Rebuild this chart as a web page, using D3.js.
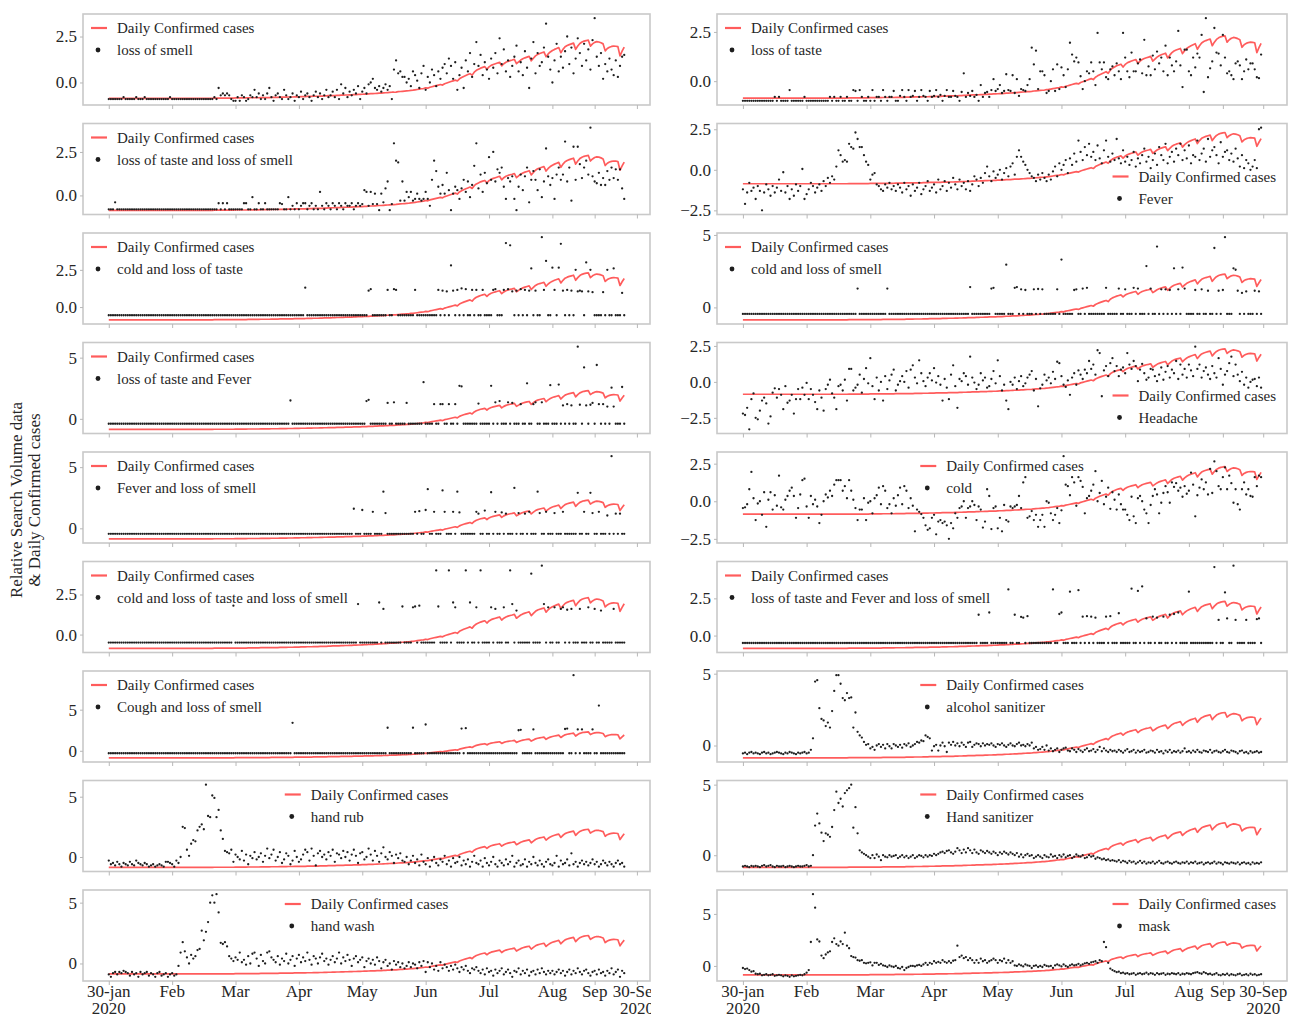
<!DOCTYPE html>
<html>
<head>
<meta charset="utf-8">
<script src="https://cdn.jsdelivr.net/npm/d3@7"></script>
<style>
  body { margin: 0; background: #fff; }
  svg { display: block; }
</style>
</head>
<body>
<svg id="chart" width="1296" height="1019"></svg>
<script>
// Daily series, 30 Jan 2020 .. 30 Sep 2020 (one value per day, standardised)
const leftTickDays = [0, 30, 60, 90, 120, 150, 180, 210, 230, 250];
const rightTickDays = [0, 30, 60, 90, 120, 150, 180, 210, 226, 245];
const xTickLabels = [["30-jan", "2020"], ["Feb"], ["Mar"], ["Apr"], ["May"], ["Jun"], ["Jul"], ["Aug"], ["Sep"], ["30-Sep", "2020"]];

const confirmedCases = [
  -0.86,-0.86,-0.86,-0.86,-0.86,-0.86,-0.86,-0.86,-0.86,-0.86,-0.86,-0.86,-0.86,-0.86,-0.86,-0.86,-0.86,-0.86,-0.86,-0.86,-0.86,-0.86,-0.86,-0.86,-0.86,-0.86,-0.86,-0.86,-0.86,-0.86,-0.86,-0.86,-0.86,-0.86,-0.86,
  -0.86,-0.86,-0.86,-0.86,-0.86,-0.86,-0.86,-0.86,-0.86,-0.86,-0.86,-0.86,-0.86,-0.86,-0.86,-0.85,-0.85,-0.85,-0.85,-0.85,-0.85,-0.85,-0.85,-0.85,-0.85,-0.84,-0.84,-0.84,-0.84,-0.84,-0.84,-0.83,-0.83,-0.83,-0.83,
  -0.83,-0.83,-0.82,-0.82,-0.82,-0.82,-0.82,-0.81,-0.81,-0.81,-0.81,-0.80,-0.80,-0.80,-0.80,-0.79,-0.79,-0.79,-0.78,-0.78,-0.78,-0.77,-0.77,-0.77,-0.76,-0.76,-0.76,-0.75,-0.75,-0.75,-0.74,-0.74,-0.73,-0.73,-0.72,
  -0.72,-0.71,-0.71,-0.70,-0.70,-0.69,-0.69,-0.68,-0.68,-0.67,-0.67,-0.66,-0.66,-0.65,-0.65,-0.64,-0.63,-0.63,-0.62,-0.61,-0.61,-0.60,-0.59,-0.58,-0.58,-0.57,-0.56,-0.55,-0.54,-0.53,-0.53,-0.52,-0.50,-0.49,-0.48,
  -0.47,-0.46,-0.45,-0.43,-0.42,-0.40,-0.38,-0.36,-0.34,-0.33,-0.29,-0.31,-0.26,-0.23,-0.20,-0.17,-0.14,-0.11,-0.14,-0.07,-0.03,0.01,0.05,0.09,0.13,0.08,0.20,0.27,0.33,0.38,0.43,0.48,0.40,0.56,0.66,
  0.72,0.78,0.82,0.86,0.72,0.85,0.93,0.98,1.02,1.06,1.10,0.90,1.02,1.10,1.15,1.19,1.22,1.26,1.02,1.12,1.22,1.29,1.34,1.38,1.42,1.18,1.32,1.45,1.53,1.58,1.62,1.66,1.40,1.55,1.66,
  1.74,1.80,1.85,1.90,1.62,1.80,1.94,2.01,2.06,2.10,2.14,1.80,1.98,2.12,2.20,2.25,2.28,2.30,1.98,2.10,2.18,2.22,2.20,2.16,2.10,1.72,1.85,1.92,1.96,1.98,1.97,1.95,1.45,1.70,1.92
];

const lossOfSmell = [
  -0.9,-0.9,-0.9,-0.9,-0.9,-0.9,-0.9,-0.8,-0.9,-0.9,-0.9,-0.9,-0.9,-0.8,-0.9,-0.9,-0.9,-0.8,-0.9,-0.9,-0.9,-0.9,-0.9,-0.9,-0.9,-0.9,-0.9,-0.9,-0.9,-0.8,-0.9,-0.9,-0.9,-0.9,-0.9,
  -0.9,-0.9,-0.9,-0.9,-0.9,-0.9,-0.9,-0.9,-0.9,-0.9,-0.9,-0.9,-0.9,-0.9,-0.9,-0.8,-0.9,-0.3,-0.7,-0.6,-0.7,-0.6,-0.7,-0.9,-1.0,-1.0,-0.8,-1.0,-0.7,-0.8,-1.0,-0.9,-0.7,-0.8,-0.4,
  -0.8,-0.6,-0.9,-0.7,-0.9,-0.6,-0.3,-0.8,-1.0,-0.7,-0.6,-0.8,-0.9,-0.4,-0.7,-0.9,-0.8,-0.6,-1.0,-0.7,-0.8,-0.5,-0.9,-0.7,-0.6,-0.8,-1.0,-0.7,-0.5,-0.8,-0.6,-0.9,-0.7,-0.4,-0.8,
  -0.7,-0.5,-0.8,-0.4,-0.9,-0.1,-0.6,-0.3,-0.8,-0.5,-0.7,-0.4,-0.6,-0.2,-0.9,-0.5,-0.3,-0.6,-0.1,0.0,0.2,-0.3,-0.4,-0.2,-0.5,-0.3,-0.1,-0.4,-0.2,-0.9,0.7,1.2,0.5,0.6,0.3,
  0.3,0.0,0.2,-0.2,0.6,0.4,0.1,-0.3,0.5,0.9,-0.4,0.3,0.0,0.7,0.4,-0.2,0.6,0.2,0.8,1.0,0.5,1.3,0.9,0.2,1.1,-0.4,0.4,0.8,-0.3,1.2,0.6,1.6,0.3,1.0,2.2,
  0.9,1.5,0.4,1.1,0.7,0.2,1.3,0.8,1.6,0.5,2.4,1.0,1.8,0.6,1.2,0.3,0.9,1.4,2.0,0.6,1.1,0.4,1.7,0.8,-0.3,1.3,2.2,0.5,1.6,0.9,1.1,1.9,3.2,1.4,0.7,
  0.0,1.2,2.1,0.6,1.4,0.8,1.7,2.5,1.0,1.9,0.5,1.3,2.4,1.6,0.9,2.1,1.2,1.8,0.7,2.3,3.5,1.4,0.9,1.6,0.2,1.0,0.6,1.3,0.7,0.4,1.2,0.3,0.9,1.4,1.5
];

const lossOfTasteAndSmell = [
  -0.8,-0.8,-0.8,-0.4,-0.8,-0.8,-0.8,-0.8,-0.8,-0.8,-0.8,-0.8,-0.8,-0.8,-0.8,-0.8,-0.8,-0.8,-0.8,-0.8,-0.8,-0.8,-0.8,-0.8,-0.8,-0.8,-0.8,-0.8,-0.8,-0.8,-0.8,-0.8,-0.8,-0.8,-0.8,
  -0.8,-0.8,-0.8,-0.8,-0.8,-0.8,-0.8,-0.8,-0.8,-0.8,-0.8,-0.8,-0.8,-0.8,-0.8,-0.8,-0.8,-0.45,-0.8,-0.45,-0.8,-0.45,-0.8,-0.8,-0.8,-0.8,-0.8,-0.8,-0.8,-0.45,-0.45,-0.8,-0.8,-0.1,-0.8,
  -0.8,-0.45,-0.8,-0.8,-0.45,-0.8,-0.8,-0.8,-0.8,-0.8,-0.8,-0.45,-0.5,-0.8,-0.8,-0.1,-0.8,-0.6,-0.8,-0.45,-0.8,-0.6,-0.45,-0.45,-0.8,-0.6,-0.45,-0.8,-0.6,-0.8,0.2,-0.6,-0.8,-0.45,-0.6,
  -0.8,-0.45,-0.6,-0.8,-0.45,-0.6,-0.8,-0.45,-0.6,-0.6,-0.45,-0.8,-0.6,-0.45,-0.6,-0.5,0.3,0.2,-0.6,0.2,-0.5,0.1,-0.5,-0.85,0.1,-0.4,0.4,0.8,-0.85,-0.5,3.0,2.0,1.9,-0.3,0.8,
  -0.3,0.2,-0.1,0.2,-0.3,-0.2,0.1,-0.2,-0.3,-0.2,0.2,-0.2,-0.6,0.9,2.0,1.4,0.5,0.1,0.6,0.1,1.3,0.3,-0.85,0.1,0.5,0.3,-0.2,0.4,0.9,0.2,0.8,-0.1,0.6,1.7,3.0,
  0.4,1.2,0.2,1.3,0.7,2.2,0.9,2.5,0.8,1.5,1.3,1.6,0.5,-0.2,1.0,0.8,1.1,-0.2,-0.85,0.5,1.2,0.3,1.1,1.6,-0.4,0.9,1.4,0.9,0.3,1.5,-0.1,0.8,2.7,1.1,0.6,
  1.0,-0.2,1.2,1.6,0.9,1.2,3.1,0.8,1.6,-0.3,2.8,0.9,2.8,1.8,1.0,1.6,2.0,1.2,3.9,1.1,0.8,0.7,1.3,0.6,1.0,0.6,1.4,0.9,1.6,1.0,1.5,0.9,1.5,0.4,-0.2
];

const coldAndLossOfTaste = [
  -0.55,-0.55,-0.55,-0.55,-0.55,-0.55,-0.55,-0.55,-0.55,-0.55,-0.55,-0.55,-0.55,-0.55,-0.55,-0.55,-0.55,-0.55,-0.55,-0.55,-0.55,-0.55,-0.55,-0.55,-0.55,-0.55,-0.55,-0.55,-0.55,-0.55,-0.55,-0.55,-0.55,-0.55,-0.55,
  -0.55,-0.55,-0.55,-0.55,-0.55,-0.55,-0.55,-0.55,-0.55,-0.55,-0.55,-0.55,-0.55,-0.55,-0.55,-0.55,-0.55,-0.55,-0.55,-0.55,-0.55,-0.55,-0.55,-0.55,-0.55,-0.55,-0.55,-0.55,-0.55,-0.55,-0.55,-0.55,-0.55,-0.55,-0.55,
  -0.55,-0.55,-0.55,-0.55,-0.55,-0.55,-0.55,-0.55,-0.55,-0.55,-0.55,-0.55,-0.55,-0.55,-0.55,-0.55,-0.55,-0.55,-0.55,-0.55,-0.55,-0.55,-0.55,1.3,-0.55,-0.55,-0.55,-0.55,-0.55,-0.55,-0.55,-0.55,-0.55,-0.55,-0.55,
  -0.55,-0.55,-0.55,-0.55,-0.55,-0.55,-0.55,-0.55,-0.55,-0.55,-0.55,-0.55,-0.55,-0.55,-0.55,-0.55,-0.55,-0.55,1.1,1.2,-0.55,-0.55,-0.55,-0.55,-0.55,-0.55,-0.55,1.15,-0.55,-0.55,1.2,1.15,-0.55,-0.55,-0.55,
  -0.55,-0.55,-0.55,-0.55,-0.55,1.15,-0.55,-0.55,-0.55,-0.55,-0.55,-0.55,-0.55,-0.55,-0.55,-0.55,1.15,-0.55,1.1,-0.55,1.05,-0.55,2.8,1.1,-0.55,1.15,-0.55,1.25,-0.55,1.2,-0.55,-0.55,1.15,-0.55,1.15,
  -0.55,-0.55,1.15,-0.55,-0.55,-0.55,-0.55,1.15,1.2,-0.55,-0.55,-0.55,1.15,4.3,1.2,4.15,1.05,-0.55,1.1,-0.55,1.2,-0.55,1.15,-0.55,1.1,2.6,-0.55,1.1,-0.55,-0.55,4.7,1.15,3.1,-0.55,-0.55,
  2.65,1.15,-0.55,2.65,4.25,1.1,-0.55,1.15,-0.55,1.1,-0.55,2.5,1.05,1.1,1.05,-0.55,3.0,1.05,2.5,1.0,-0.55,-0.55,-0.55,-0.55,1.0,-0.55,2.5,-0.55,-0.55,2.6,-0.55,-0.55,-0.55,0.95,-0.55
];

const lossOfTasteAndFever = [
  -0.4,-0.4,-0.4,-0.4,-0.4,-0.4,-0.4,-0.4,-0.4,-0.4,-0.4,-0.4,-0.4,-0.4,-0.4,-0.4,-0.4,-0.4,-0.4,-0.4,-0.4,-0.4,-0.4,-0.4,-0.4,-0.4,-0.4,-0.4,-0.4,-0.4,-0.4,-0.4,-0.4,-0.4,-0.4,
  -0.4,-0.4,-0.4,-0.4,-0.4,-0.4,-0.4,-0.4,-0.4,-0.4,-0.4,-0.4,-0.4,-0.4,-0.4,-0.4,-0.4,-0.4,-0.4,-0.4,-0.4,-0.4,-0.4,-0.4,-0.4,-0.4,-0.4,-0.4,-0.4,-0.4,-0.4,-0.4,-0.4,-0.4,-0.4,
  -0.4,-0.4,-0.4,-0.4,-0.4,-0.4,-0.4,-0.4,-0.4,-0.4,-0.4,-0.4,-0.4,-0.4,-0.4,-0.4,1.5,-0.4,-0.4,-0.4,-0.4,-0.4,-0.4,-0.4,-0.4,-0.4,-0.4,-0.4,-0.4,-0.4,-0.4,-0.4,-0.4,-0.4,-0.4,
  -0.4,-0.4,-0.4,-0.4,-0.4,-0.4,-0.4,-0.4,-0.4,-0.4,-0.4,-0.4,-0.4,-0.4,-0.4,-0.4,-0.4,1.45,1.55,-0.4,-0.4,-0.4,-0.4,-0.4,-0.4,-0.4,-0.4,1.3,-0.4,-0.4,1.35,-0.4,-0.4,-0.4,-0.4,
  -0.4,1.3,-0.4,-0.4,-0.4,-0.4,-0.4,-0.4,-0.4,3.0,-0.4,-0.4,-0.4,-0.4,1.2,-0.4,-0.4,1.2,1.2,-0.4,-0.4,1.2,-0.4,-0.4,1.2,-0.4,2.7,2.65,-0.4,-0.4,-0.4,-0.4,-0.4,-0.4,-0.4,
  1.25,-0.4,-0.4,-0.4,-0.4,-0.4,2.7,-0.4,1.35,-0.4,1.45,-0.4,-0.4,-0.4,1.35,-0.4,1.3,-0.4,-0.4,-0.4,1.2,-0.4,-0.4,2.9,-0.4,-0.4,1.2,1.35,-0.4,-0.4,1.35,-0.4,-0.4,-0.4,2.75,
  -0.4,-0.4,-0.4,2.8,-0.4,1.1,-0.4,1.2,-0.4,1.1,-0.4,-0.4,5.9,1.15,-0.4,4.2,1.1,-0.4,1.15,1.3,-0.4,4.4,1.2,-0.4,1.2,-0.4,1.0,-0.4,2.55,1.0,-0.4,-0.4,-0.4,2.6,-0.4
];

const feverAndLossOfSmell = [
  -0.45,-0.45,-0.45,-0.45,-0.45,-0.45,-0.45,-0.45,-0.45,-0.45,-0.45,-0.45,-0.45,-0.45,-0.45,-0.45,-0.45,-0.45,-0.45,-0.45,-0.45,-0.45,-0.45,-0.45,-0.45,-0.45,-0.45,-0.45,-0.45,-0.45,-0.45,-0.45,-0.45,-0.45,-0.45,
  -0.45,-0.45,-0.45,-0.45,-0.45,-0.45,-0.45,-0.45,-0.45,-0.45,-0.45,-0.45,-0.45,-0.45,-0.45,-0.45,-0.45,-0.45,-0.45,-0.45,-0.45,-0.45,-0.45,-0.45,-0.45,-0.45,-0.45,-0.45,-0.45,-0.45,-0.45,-0.45,-0.45,-0.45,-0.45,
  -0.45,-0.45,-0.45,-0.45,-0.45,-0.45,-0.45,-0.45,-0.45,-0.45,-0.45,-0.45,-0.45,-0.45,-0.45,-0.45,-0.45,-0.45,-0.45,-0.45,-0.45,-0.45,-0.45,-0.45,-0.45,-0.45,-0.45,-0.45,-0.45,-0.45,-0.45,-0.45,-0.45,-0.45,-0.45,
  -0.45,-0.45,-0.45,-0.45,-0.45,-0.45,-0.45,-0.45,-0.45,-0.45,-0.45,1.6,-0.45,-0.45,-0.45,1.5,-0.45,-0.45,-0.45,-0.45,1.35,-0.45,-0.45,-0.45,-0.45,3.0,1.25,-0.45,-0.45,-0.45,-0.45,-0.45,-0.45,-0.45,-0.45,
  -0.45,-0.45,-0.45,-0.45,-0.45,1.35,-0.45,1.4,-0.45,-0.45,1.5,3.2,-0.45,-0.45,1.35,-0.45,-0.45,-0.45,3.1,1.35,-0.45,-0.45,-0.45,1.35,-0.45,3.0,1.3,-0.45,-0.45,-0.45,-0.45,-0.45,-0.45,-0.45,1.35,
  1.2,-0.45,-0.45,1.45,-0.45,-0.45,2.95,-0.45,1.35,-0.45,-0.45,1.3,-0.45,1.2,-0.45,-0.45,-0.45,3.3,-0.45,1.25,-0.45,-0.45,1.2,-0.45,1.35,-0.45,-0.45,-0.45,3.0,1.25,-0.45,-0.45,1.35,-0.45,-0.45,
  -0.45,1.25,-0.45,-0.45,-0.45,1.35,-0.45,-0.45,-0.45,-0.45,-0.45,-0.45,2.9,-0.45,-0.45,1.35,-0.45,-0.45,2.9,1.25,-0.45,-0.45,1.35,-0.45,-0.45,-0.45,1.05,-0.45,5.9,-0.45,1.2,-0.45,1.2,-0.45,-0.45
];

const coldTasteSmell = [
  -0.5,-0.5,-0.5,-0.5,-0.5,-0.5,-0.5,-0.5,-0.5,-0.5,-0.5,-0.5,-0.5,-0.5,-0.5,-0.5,-0.5,-0.5,-0.5,-0.5,-0.5,-0.5,-0.5,-0.5,-0.5,-0.5,-0.5,-0.5,-0.5,-0.5,-0.5,-0.5,-0.5,-0.5,-0.5,
  -0.5,-0.5,-0.5,-0.5,-0.5,-0.5,-0.5,-0.5,-0.5,-0.5,-0.5,-0.5,-0.5,-0.5,-0.5,-0.5,-0.5,-0.5,-0.5,-0.5,-0.5,-0.5,-0.5,-0.5,1.8,-0.5,-0.5,-0.5,-0.5,-0.5,-0.5,-0.5,-0.5,-0.5,-0.5,
  -0.5,-0.5,-0.5,-0.5,-0.5,-0.5,-0.5,-0.5,-0.5,-0.5,-0.5,-0.5,-0.5,-0.5,-0.5,-0.5,-0.5,-0.5,-0.5,-0.5,-0.5,-0.5,-0.5,-0.5,-0.5,-0.5,-0.5,-0.5,-0.5,-0.5,-0.5,-0.5,-0.5,-0.5,-0.5,
  -0.5,-0.5,-0.5,-0.5,-0.5,-0.5,-0.5,-0.5,-0.5,-0.5,-0.5,-0.5,-0.5,1.9,-0.5,-0.5,-0.5,-0.5,-0.5,-0.5,-0.5,-0.5,-0.5,2.0,-0.5,1.6,-0.5,-0.5,-0.5,-0.5,-0.5,-0.5,-0.5,-0.5,1.75,
  -0.5,-0.5,-0.5,-0.5,1.7,1.75,-0.5,1.8,-0.5,-0.5,-0.5,-0.5,-0.5,-0.5,-0.5,4.0,1.75,-0.5,-0.5,-0.5,-0.5,4.0,-0.5,2.0,1.7,-0.5,-0.5,-0.5,-0.5,4.0,-0.5,2.0,-0.5,-0.5,1.7,
  -0.5,4.0,-0.5,-0.5,-0.5,-0.5,1.7,-0.5,1.6,-0.5,-0.5,-0.5,1.7,-0.5,-0.5,4.0,1.9,-0.5,1.5,-0.5,-0.5,-0.5,-0.5,-0.5,-0.5,3.8,-0.5,-0.5,-0.5,-0.5,4.3,1.9,-0.5,1.7,-0.5,
  -0.5,1.7,-0.5,-0.5,1.6,1.7,-0.5,1.55,-0.5,1.6,-0.5,-0.5,-0.5,1.6,-0.5,-0.5,-0.5,1.7,-0.5,-0.5,1.6,-0.5,-0.5,1.5,-0.5,-0.5,-0.5,-0.5,-0.5,1.6,-0.5,-0.5,-0.5,-0.5,-0.5
];

const coughAndLossOfSmell = [
  -0.3,-0.3,-0.3,-0.3,-0.3,-0.3,-0.3,-0.3,-0.3,-0.3,-0.3,-0.3,-0.3,-0.3,-0.3,-0.3,-0.3,-0.3,-0.3,-0.3,-0.3,-0.3,-0.3,-0.3,-0.3,-0.3,-0.3,-0.3,-0.3,-0.3,-0.3,-0.3,-0.3,-0.3,-0.3,
  -0.3,-0.3,-0.3,-0.3,-0.3,-0.3,-0.3,-0.3,-0.3,-0.3,-0.3,-0.3,-0.3,-0.3,-0.3,-0.3,-0.3,-0.3,-0.3,-0.3,-0.3,-0.3,-0.3,-0.3,-0.3,-0.3,-0.3,-0.3,-0.3,-0.3,-0.3,-0.3,-0.3,-0.3,-0.3,
  -0.3,-0.3,-0.3,-0.3,-0.3,-0.3,-0.3,-0.3,-0.3,-0.3,-0.3,-0.3,-0.3,-0.3,-0.3,-0.3,-0.3,3.4,-0.3,-0.3,-0.3,-0.3,-0.3,-0.3,-0.3,-0.3,-0.3,-0.3,-0.3,-0.3,-0.3,-0.3,-0.3,-0.3,-0.3,
  -0.3,-0.3,-0.3,-0.3,-0.3,-0.3,-0.3,-0.3,-0.3,-0.3,-0.3,-0.3,-0.3,-0.3,-0.3,-0.3,-0.3,-0.3,-0.3,-0.3,-0.3,-0.3,-0.3,-0.3,-0.3,-0.3,-0.3,2.8,-0.3,-0.3,-0.3,-0.3,-0.3,-0.3,-0.3,
  -0.3,-0.3,-0.3,-0.3,2.8,-0.3,-0.3,-0.3,-0.3,-0.3,3.2,-0.3,-0.3,-0.3,-0.3,-0.3,-0.3,-0.3,-0.3,-0.3,-0.3,-0.3,-0.3,-0.3,-0.3,-0.3,-0.3,2.7,-0.3,2.75,-0.3,-0.3,-0.3,-0.3,-0.3,
  -0.3,-0.3,-0.3,-0.3,-0.3,-0.3,-0.3,-0.3,-0.3,-0.3,-0.3,-0.3,-0.3,-0.3,-0.3,-0.3,-0.3,-0.3,-0.3,2.5,2.55,-0.3,-0.3,-0.3,-0.3,-0.3,2.6,-0.3,-0.3,-0.3,-0.3,-0.3,-0.3,-0.3,-0.3,
  -0.3,-0.3,-0.3,-0.3,-0.3,-0.3,2.65,2.7,-0.3,-0.3,9.2,-0.3,2.6,-0.3,2.6,-0.3,-0.3,-0.3,-0.3,2.6,-0.3,-0.3,5.5,-0.3,-0.3,-0.3,-0.3,-0.3,-0.3,-0.3,-0.3,-0.3,-0.3,-0.3,-0.3
];

const handRub = [
  -0.3,-0.6,-0.5,-0.7,-0.4,-0.6,-0.8,-0.5,-0.6,-0.7,-0.4,-0.6,-0.7,-0.3,-0.5,-0.6,-0.7,-0.5,-0.6,-0.8,-0.7,-0.6,-0.8,-0.7,-0.6,-0.7,-0.8,-0.4,-0.4,-0.5,-0.6,-0.8,-0.3,-0.5,0.0,
  2.5,2.4,0.6,0.1,1.1,1.4,1.3,2.2,2.5,2.7,2.3,6.0,3.4,3.3,5.1,4.9,3.3,3.9,2.2,1.5,0.5,0.4,0.3,0.6,-0.4,0.2,0.0,-0.2,0.5,-0.3,0.2,-0.6,0.1,-0.1,0.4,
  -0.2,0.0,0.3,-0.4,0.1,0.7,-0.1,0.2,0.6,-0.3,0.0,0.4,-0.5,-0.2,0.3,0.1,-0.6,-0.3,0.5,0.0,-0.4,-0.2,0.2,0.6,0.4,-0.3,0.7,0.1,-0.7,0.3,0.5,0.0,0.2,-0.2,0.4,
  0.1,0.6,-0.4,0.3,0.2,-0.1,0.5,0.0,0.4,-0.3,0.2,0.6,0.1,-0.5,0.3,0.4,-0.2,0.0,0.7,0.2,-0.3,0.5,0.1,-0.4,0.3,0.8,0.0,-0.2,0.4,0.1,-0.5,0.2,-0.1,0.3,-0.3,
  -0.4,0.0,-0.6,-0.3,0.1,-0.5,-0.2,-0.7,0.2,-0.4,-0.6,-0.1,-0.8,-0.3,0.0,-0.5,-0.7,-0.2,-0.4,0.1,-0.6,-0.3,-0.8,-0.1,-0.5,-0.4,0.0,-0.7,-0.3,-0.6,-0.2,-0.8,-0.4,0.1,-0.5,
  -0.6,-0.3,-0.8,-0.1,-0.5,-0.7,-0.4,0.0,-0.6,-0.8,-0.3,-0.5,-0.7,-0.2,-0.6,-0.4,0.1,-0.8,-0.5,-0.3,-0.7,-0.6,-0.2,-0.8,-0.4,-0.6,0.0,-0.5,-0.7,-0.3,-0.6,-0.8,-0.4,-0.2,-0.6,
  -0.7,-0.5,0.1,-0.8,-0.3,-0.6,-0.5,-0.2,-0.7,0.3,-0.6,-0.4,-0.8,-0.5,-0.3,-0.6,-0.4,-0.7,-0.5,-0.2,-0.6,-0.4,-0.8,-0.6,-0.3,-0.5,-0.7,-0.4,-0.6,-0.8,-0.5,-0.3,-0.6,-0.5,-0.8
];

const handWash = [
  -0.9,-1.1,-0.8,-0.7,-0.9,-0.7,-0.8,-0.6,-0.7,-0.8,-1.0,-0.7,-0.9,-0.8,-1.1,-0.7,-0.9,-0.8,-0.7,-1.0,-0.8,-0.9,-1.1,-0.8,-0.7,-1.0,-0.9,-0.8,-1.1,-0.9,-0.8,-1.0,-0.9,-0.2,0.9,
  1.75,1.0,0.5,0.0,0.7,0.4,0.6,1.1,1.2,2.7,1.9,2.6,3.4,5.0,5.6,5.0,5.7,4.2,1.7,1.6,1.75,1.4,0.6,0.4,0.2,0.5,0.3,0.9,0.1,0.3,-0.1,0.6,0.0,0.8,0.9,
  0.4,-0.2,0.7,0.2,0.0,0.9,1.0,0.5,0.3,0.1,0.6,-0.1,0.4,0.2,0.8,0.0,0.3,0.6,-0.2,0.4,0.7,0.1,0.5,0.2,0.9,0.3,-0.1,0.6,0.4,0.0,0.5,0.8,0.2,0.4,-0.1,
  0.3,0.6,0.1,0.4,0.9,0.0,0.5,0.2,0.7,0.3,-0.2,0.4,0.6,0.1,0.3,0.5,-0.3,0.2,0.4,0.0,0.3,-0.1,0.5,0.2,-0.4,0.1,0.3,-0.2,0.0,-0.5,0.2,-0.1,0.1,-0.3,0.0,
  -0.4,-0.2,0.1,-0.3,0.0,-0.1,-0.4,0.1,-0.2,0.2,-0.7,0.1,-0.3,0.0,-0.5,-0.2,-0.6,0.1,-0.4,-0.1,-0.3,-0.6,-0.2,-0.5,-0.1,-0.4,-0.7,-0.3,-0.5,-0.2,-0.6,-0.8,-0.4,-0.5,-0.3,
  -0.6,-0.8,-0.5,-0.9,-0.4,-0.7,-0.6,-1.0,-0.5,-0.8,-0.6,-0.4,-0.9,-0.7,-0.5,-0.8,-1.1,-0.6,-0.7,-0.4,-0.9,-0.6,-0.8,-0.5,-1.0,-0.7,-0.6,-0.9,-0.5,-0.8,-0.4,-0.7,-0.9,-0.6,-0.8,
  -0.6,-0.9,-0.7,-0.5,-0.8,-0.6,-1.0,-0.7,-0.5,-0.9,-0.6,-0.8,-0.4,-0.7,-0.9,-0.6,-0.5,-0.8,-1.0,-0.7,-0.6,-0.9,-0.5,-0.8,-0.7,-1.0,-0.6,-0.8,-0.4,-0.9,-0.7,-0.5,-1.1,-0.6,-0.8
];

const lossOfTaste = [
  -1.0,-1.0,-1.0,-1.0,-1.0,-1.0,-1.0,-1.0,-1.0,-1.0,-1.0,-1.0,-1.0,-1.0,-1.0,-0.8,-1.0,-0.8,-1.0,-1.0,-1.0,-1.0,-0.45,-1.0,-1.0,-1.0,-1.0,-1.0,-1.0,-0.8,-1.0,-1.0,-1.0,-1.0,-1.0,
  -1.0,-1.0,-1.0,-1.0,-1.0,-1.0,-0.8,-1.0,-0.8,-1.0,-1.0,-0.8,-1.0,-1.0,-0.8,-1.0,-1.0,-0.45,-0.5,-1.0,-0.45,-0.8,-1.0,-1.0,-0.8,-1.0,-0.45,-1.0,-0.8,-0.8,-1.0,-0.45,-0.8,-1.0,-0.8,
  -0.8,-0.5,-1.0,-1.0,-0.75,-0.45,-0.8,-1.0,-0.45,-0.8,-0.75,-0.5,-1.0,-0.8,-0.45,-0.75,-0.8,-1.0,-0.5,-0.8,-0.75,-0.45,-0.8,-0.7,-1.0,-0.75,-0.45,-0.8,-0.8,-0.5,-0.75,-0.8,-1.0,-0.55,0.4,
  -0.8,-0.6,-0.75,-0.5,-0.8,-0.7,-1.0,-0.2,-0.8,-0.6,-0.55,-0.8,-0.45,0.1,-0.5,-0.4,-0.2,-0.6,-0.5,0.35,-0.45,-0.5,0.3,-0.6,0.1,-0.75,-0.4,-0.45,-0.5,-0.2,0.1,1.7,0.85,1.55,-0.4,
  0.5,0.5,0.3,-0.6,-0.5,0.0,0.6,-0.5,0.85,-0.4,0.7,0.3,-0.3,0.6,1.95,1.35,1.0,1.2,0.95,0.25,-0.4,0.0,0.5,0.4,0.95,0.5,-0.2,2.45,0.95,0.6,0.95,0.2,0.1,0.6,0.75,
  0.3,0.9,0.5,0.1,2.45,1.2,0.5,0.2,1.45,0.5,0.5,0.9,1.1,0.4,2.1,0.3,0.75,0.3,1.3,0.6,1.5,0.9,1.2,0.5,1.8,0.3,1.2,0.8,0.5,1.0,2.55,0.8,-0.3,1.6,1.6,
  0.5,0.3,1.2,0.7,1.4,1.2,2.35,-0.55,3.2,0.2,0.65,1.0,2.7,1.45,1.4,0.8,2.35,1.2,0.4,0.5,0.3,0.1,0.9,1.0,0.8,0.1,0.5,1.1,0.6,0.9,0.9,0.6,0.2,0.15,1.35
];

const fever = [
  -1.2,-2.1,-1.4,-0.8,-1.3,-1.1,-1.8,-1.0,-1.3,-2.5,-1.4,-0.9,-1.2,-1.6,-1.0,-1.4,-1.1,-0.6,-1.3,-0.15,-1.4,-1.0,-1.8,-1.2,-1.6,-0.9,-1.3,-1.0,0.05,-1.8,-1.5,-1.2,-0.8,-1.0,-1.4,
  -1.1,-0.9,-1.3,-0.7,-1.0,-0.5,-0.8,-0.4,-0.6,0.2,1.2,0.9,0.5,0.6,0.5,1.6,1.4,1.3,2.3,1.9,1.4,1.4,0.9,0.5,0.3,-0.6,-0.3,-0.2,-0.9,-1.0,-1.2,-1.3,-0.9,-1.1,-0.8,
  -1.2,-1.0,-1.3,-0.9,-1.1,-1.4,-0.8,-1.2,-1.0,-1.6,-0.9,-1.3,-1.1,-0.8,-1.5,-1.2,-1.0,-0.7,-1.3,-1.1,-0.9,-1.4,-0.6,-1.2,-1.0,-0.7,-1.3,-0.8,-1.1,-0.5,-0.9,-1.2,-0.6,-1.0,-0.8,
  -1.2,-0.7,-1.3,-0.9,-0.4,-0.6,-1.0,-0.5,-0.8,-0.2,0.2,-0.4,-0.7,-0.1,-0.5,-0.3,0.0,-0.6,-0.2,0.1,-0.4,0.2,0.4,-0.3,0.8,1.2,0.8,0.5,0.3,0.0,-0.2,-0.4,-0.5,-0.7,-0.3,
  -0.6,-0.2,-0.5,-0.7,-0.3,-0.6,-0.1,0.2,-0.4,0.4,0.0,0.3,0.6,-0.2,0.7,0.3,1.0,0.5,1.8,1.1,0.6,1.4,0.9,1.6,0.8,1.1,0.6,1.5,0.7,0.4,1.2,1.8,0.8,0.5,1.0,
  0.6,1.9,0.7,0.4,1.2,0.5,0.8,0.3,0.6,1.1,0.2,0.7,0.4,0.9,1.3,0.5,0.8,0.1,0.6,1.0,0.3,1.4,0.9,0.6,1.6,0.4,0.8,1.1,0.5,1.3,0.9,1.6,0.6,1.2,0.7,
  1.5,0.4,0.9,0.8,1.8,0.6,1.0,1.3,0.5,1.9,0.8,1.2,1.4,0.9,0.4,1.7,0.8,1.1,1.2,0.6,1.0,0.5,1.3,0.7,0.2,0.9,0.1,0.6,0.4,0.0,0.2,0.6,0.1,2.5,2.6
];

const coldAndLossOfSmell = [
  -0.45,-0.45,-0.45,-0.45,-0.45,-0.45,-0.45,-0.45,-0.45,-0.45,-0.45,-0.45,-0.45,-0.45,-0.45,-0.45,-0.45,-0.45,-0.45,-0.45,-0.45,-0.45,-0.45,-0.45,-0.45,-0.45,-0.45,-0.45,-0.45,-0.45,-0.45,-0.45,-0.45,-0.45,-0.45,
  -0.45,-0.45,-0.45,-0.45,-0.45,-0.45,-0.45,-0.45,-0.45,-0.45,-0.45,-0.45,-0.45,-0.45,-0.45,-0.45,-0.45,-0.45,-0.45,1.3,-0.45,-0.45,-0.45,-0.45,-0.45,-0.45,-0.45,-0.45,-0.45,-0.45,-0.45,-0.45,-0.45,1.3,-0.45,
  -0.45,-0.45,-0.45,-0.45,-0.45,-0.45,-0.45,-0.45,-0.45,-0.45,-0.45,-0.45,-0.45,-0.45,-0.45,-0.45,-0.45,-0.45,-0.45,-0.45,-0.45,-0.45,-0.45,-0.45,-0.45,-0.45,-0.45,-0.45,-0.45,-0.45,-0.45,-0.45,-0.45,-0.45,-0.45,
  -0.45,-0.45,1.4,-0.45,-0.45,-0.45,-0.45,-0.45,-0.45,-0.45,-0.45,-0.45,1.3,1.35,-0.45,-0.45,-0.45,-0.45,-0.45,2.95,-0.45,-0.45,-0.45,1.35,1.4,-0.45,1.25,-0.45,1.2,-0.45,-0.45,-0.45,1.25,-0.45,1.27,
  -0.45,1.25,-0.45,-0.45,-0.45,-0.45,-0.45,-0.45,1.25,-0.45,3.3,-0.45,-0.45,-0.45,-0.45,-0.45,1.2,1.25,-0.45,-0.45,1.3,-0.45,1.35,-0.45,-0.45,-0.45,-0.45,-0.45,-0.45,-0.45,-0.45,1.35,-0.45,-0.45,-0.45,
  -0.45,-0.45,1.3,-0.45,-0.45,1.25,-0.45,-0.45,-0.45,1.35,-0.45,1.3,-0.45,-0.45,-0.45,2.85,-0.45,1.3,-0.45,-0.45,4.2,-0.45,1.25,-0.45,1.25,-0.45,1.2,-0.45,2.7,-0.45,1.25,-0.45,2.75,1.3,-0.45,
  -0.45,-0.45,-0.45,1.2,-0.45,-0.45,1.25,-0.45,-0.45,1.15,-0.45,-0.45,4.1,-0.45,1.15,-0.45,1.2,4.85,-0.45,-0.45,-0.45,2.7,2.6,1.15,-0.45,1.0,-0.45,1.1,-0.45,-0.45,-0.45,1.15,-0.45,1.1,-0.45
];

const headache = [
  -2.2,-2.3,-1.8,-3.3,-1.2,-0.8,-2.5,-2.6,-2.0,-1.3,-1.1,-1.5,-2.9,-2.4,-0.75,-0.45,-1.1,-0.5,-0.9,-1.9,-0.3,-1.45,-1.3,-0.9,-2.2,-1.2,-0.5,-1.2,-0.4,-0.9,-0.07,-1.2,-0.5,-0.9,-1.4,
  -1.9,-0.6,-1.1,-2.0,-0.5,-0.2,0.15,-0.8,-1.1,-1.9,-0.3,-0.2,-0.6,0.15,-1.3,0.9,0.9,-0.6,-0.4,-0.2,0.5,-0.75,0.2,0.95,-0.1,1.65,-0.3,-1.2,0.3,-0.6,0.0,-1.3,0.4,-0.5,0.1,
  0.5,0.85,-0.6,-0.2,0.05,0.4,0.0,0.75,-0.4,0.85,1.15,0.3,-0.1,1.5,0.6,0.05,-0.3,0.3,0.6,0.1,0.95,-0.05,0.4,-0.2,-1.3,0.2,-0.4,-1.2,0.5,1.15,-0.3,-1.8,0.2,0.05,0.6,
  0.4,-0.2,1.75,0.3,-0.05,-0.5,-0.2,0.6,0.1,0.3,-0.4,-0.3,0.2,0.75,-0.1,1.5,0.4,-0.6,-0.2,-1.3,-1.9,0.0,-0.2,0.3,-0.5,0.05,0.4,-0.3,-0.1,0.3,0.5,0.75,-0.6,0.2,-1.7,
  -0.45,-0.2,0.5,0.1,0.3,-0.1,0.7,0.2,1.4,1.3,0.4,-0.2,-0.35,0.1,-0.9,0.3,0.6,-0.2,0.8,0.5,0.2,0.85,0.6,1.45,0.9,1.2,0.5,2.2,2.0,-1.0,0.8,1.1,0.4,1.3,1.65,
  0.75,1.1,0.4,0.85,1.0,0.6,2.0,1.2,0.9,1.45,1.1,0.05,0.85,1.25,0.6,0.15,0.3,0.9,0.85,0.4,0.05,0.5,1.0,0.15,0.7,1.1,0.3,0.85,0.6,1.45,0.2,1.2,0.5,0.9,0.3,
  1.2,0.8,0.4,2.45,0.9,1.2,0.3,0.75,1.0,0.5,0.2,1.1,0.6,0.3,1.65,0.9,-0.2,0.5,0.75,1.3,1.75,0.4,1.2,0.5,0.05,0.7,-0.2,0.3,-0.4,0.0,0.15,0.2,-0.3,0.3,-0.4
];

const cold = [
  -0.45,-0.4,-0.2,0.8,1.95,0.2,-1.25,-0.15,0.0,-0.9,0.6,-1.7,0.1,0.6,-0.55,0.4,-0.3,1.7,-0.4,-0.55,0.1,0.35,0.7,0.9,0.35,-1.1,-0.45,0.45,1.4,1.5,-0.35,-1.1,0.35,-0.2,0.1,
  -0.35,-1.45,-0.9,0.0,0.45,0.25,0.7,0.35,1.1,1.4,1.4,1.4,0.7,1.0,0.2,1.4,0.7,0.1,-0.45,-1.25,-0.55,-0.55,0.2,-1.25,-0.1,0.0,-0.8,0.2,0.4,0.9,-0.2,1.0,0.7,-0.45,-0.2,
  -0.8,0.2,-0.3,0.4,0.9,-0.2,1.0,0.7,-0.45,0.2,-0.3,-2.0,-0.55,-0.7,-0.85,-1.1,-1.6,-1.9,-1.8,-1.1,-0.9,-2.2,-1.35,-1.25,-1.45,-1.35,-1.6,-2.5,-1.45,-1.8,-0.8,-1.1,-0.45,-0.35,0.0,
  -1.1,-0.45,-0.35,0.0,-0.25,-1.25,-0.35,-0.55,-1.75,-1.35,0.8,0.35,-1.85,-0.45,-0.35,-1.8,-1.1,-2.0,-0.25,-1.25,-1.35,-0.35,-0.45,-0.35,-0.25,0.35,-0.45,1.25,1.6,-1.1,-1.0,-0.65,-1.25,-0.9,-1.7,
  -1.25,-0.9,-1.7,0.0,-0.1,-0.8,-1.25,-0.9,-0.45,-1.45,-0.6,3.0,1.1,1.0,0.4,1.6,1.25,-0.3,1.6,1.35,0.95,-0.8,0.2,0.35,0.7,1.1,2.0,0.0,0.55,1.35,-0.2,0.3,0.9,-0.5,0.6,
  0.1,-0.55,0.45,-0.2,-0.55,-0.55,-0.9,-1.25,0.3,-1.0,-1.45,0.2,0.35,0.0,-0.55,-0.8,-1.45,-0.25,0.35,0.8,0.45,-0.8,-0.1,0.55,1.0,0.6,-0.1,1.25,0.95,1.2,0.7,0.9,0.3,1.0,0.5,
  0.7,1.9,1.1,-1.0,0.4,0.9,1.45,0.8,1.25,0.45,2.15,0.55,2.65,2.0,1.0,0.8,1.6,2.25,0.8,1.7,1.2,-0.1,0.8,-0.2,-0.55,0.8,1.25,0.45,0.8,0.35,0.3,1.6,1.0,1.7,1.6
];

const tasteFeverSmell = [
  -0.5,-0.5,-0.5,-0.5,-0.5,-0.5,-0.5,-0.5,-0.5,-0.5,-0.5,-0.5,-0.5,-0.5,-0.5,-0.5,-0.5,-0.5,-0.5,-0.5,-0.5,-0.5,-0.5,-0.5,-0.5,-0.5,-0.5,-0.5,-0.5,-0.5,-0.5,-0.5,-0.5,-0.5,-0.5,
  -0.5,-0.5,-0.5,-0.5,-0.5,-0.5,-0.5,-0.5,-0.5,-0.5,-0.5,-0.5,-0.5,-0.5,-0.5,-0.5,-0.5,-0.5,-0.5,-0.5,-0.5,-0.5,-0.5,-0.5,-0.5,-0.5,-0.5,-0.5,-0.5,-0.5,-0.5,-0.5,-0.5,-0.5,-0.5,
  -0.5,-0.5,-0.5,-0.5,-0.5,-0.5,-0.5,-0.5,-0.5,-0.5,-0.5,-0.5,-0.5,-0.5,-0.5,-0.5,-0.5,-0.5,-0.5,-0.5,-0.5,-0.5,-0.5,-0.5,-0.5,-0.5,-0.5,-0.5,-0.5,-0.5,-0.5,-0.5,-0.5,-0.5,-0.5,
  -0.5,-0.5,-0.5,-0.5,-0.5,-0.5,1.4,-0.5,-0.5,-0.5,-0.5,1.55,-0.5,-0.5,-0.5,-0.5,-0.5,-0.5,-0.5,-0.5,3.1,-0.5,-0.5,1.4,-0.5,-0.5,1.25,1.2,-0.5,1.3,-0.5,-0.5,-0.5,-0.5,-0.5,
  -0.5,-0.5,-0.5,-0.5,-0.5,-0.5,3.1,-0.5,-0.5,1.45,1.55,-0.5,-0.5,-0.5,2.95,-0.5,-0.5,-0.5,3.05,-0.5,1.27,-0.5,1.3,-0.5,1.27,-0.5,1.2,-0.5,-0.5,-0.5,-0.5,1.27,-0.5,1.3,-0.5,
  -0.5,-0.5,1.5,-0.5,-0.5,-0.5,-0.5,-0.5,3.15,-0.5,-0.5,3.0,-0.5,3.3,-0.5,1.15,-0.5,-0.5,1.27,-0.5,1.2,-0.5,-0.5,1.27,-0.5,-0.5,1.4,-0.5,1.45,-0.5,1.55,-0.5,-0.5,-0.5,-0.5,
  2.95,-0.5,-0.5,-0.5,-0.5,-0.5,-0.5,-0.5,-0.5,-0.5,-0.5,-0.5,4.6,-0.5,1.05,-0.5,-0.5,2.9,1.15,-0.5,-0.5,4.7,1.05,-0.5,-0.5,-0.5,-0.5,1.05,-0.5,-0.5,-0.5,-0.5,1.1,1.15,-0.5
];

const alcoholSanitizer = [
  -0.55,-0.5,-0.6,-0.5,-0.45,-0.55,-0.5,-0.55,-0.6,-0.5,-0.45,-0.55,-0.5,-0.6,-0.55,-0.5,-0.45,-0.5,-0.55,-0.6,-0.5,-0.55,-0.45,-0.5,-0.55,-0.6,-0.5,-0.55,-0.5,-0.45,-0.55,-0.5,-0.3,0.5,4.45,
  4.55,2.6,1.85,1.75,1.35,1.6,1.25,2.4,3.8,4.9,4.9,4.3,3.3,3.15,3.65,3.3,3.35,1.25,2.3,0.95,0.7,0.55,0.25,0.05,0.1,-0.2,-0.1,-0.3,0.0,0.1,-0.1,0.05,-0.2,0.1,-0.05,
  -0.2,0.1,0.0,-0.1,0.05,-0.15,0.1,0.0,0.15,-0.1,0.0,0.1,0.25,0.2,0.35,0.3,0.7,0.6,0.5,-0.35,-0.05,0.05,-0.35,0.0,0.2,-0.05,-0.45,0.2,0.05,0.25,0.0,0.15,-0.05,0.2,0.05,
  -0.1,0.2,0.25,-0.1,0.05,0.15,0.1,-0.05,0.15,0.0,0.1,0.05,0.15,0.0,-0.1,0.1,0.05,0.15,0.0,-0.1,0.05,0.15,0.0,-0.05,0.1,0.2,0.0,0.05,-0.05,0.1,0.0,0.2,-0.2,-0.1,-0.3,
  -0.25,-0.1,-0.3,0.0,-0.35,-0.2,-0.4,-0.3,-0.2,-0.45,-0.3,-0.2,-0.15,-0.35,-0.4,-0.2,-0.3,-0.45,-0.25,-0.35,-0.45,-0.3,-0.2,-0.4,-0.35,-0.25,-0.45,-0.3,-0.1,-0.4,-0.2,-0.35,-0.45,-0.3,-0.4,
  -0.35,-0.45,-0.3,-0.4,-0.5,-0.35,-0.25,-0.45,-0.4,-0.3,-0.5,-0.35,-0.45,-0.4,-0.3,-0.5,-0.45,-0.35,-0.4,-0.5,-0.3,-0.45,-0.4,-0.55,-0.35,-0.45,-0.3,-0.5,-0.4,-0.45,-0.35,-0.5,-0.4,-0.2,-0.45,
  -0.4,-0.5,-0.35,-0.45,-0.3,-0.45,-0.5,-0.35,-0.4,-0.45,-0.3,-0.5,-0.4,-0.35,-0.45,-0.5,-0.4,-0.3,-0.45,-0.5,-0.35,-0.4,-0.45,-0.55,-0.4,-0.35,-0.5,-0.45,-0.55,-0.4,-0.5,-0.45,-0.4,-0.5,-0.45
];

const handSanitizer = [
  -0.8,-0.75,-0.8,-0.85,-0.75,-0.8,-0.75,-0.8,-0.85,-0.75,-0.7,-0.8,-0.75,-0.7,-0.8,-0.85,-0.75,-0.8,-0.8,-0.75,-0.85,-0.8,-0.75,-0.8,-0.85,-0.8,-0.75,-0.8,-0.8,-0.75,-0.7,-0.8,-0.75,0.0,2.1,
  2.95,2.25,1.6,1.0,1.55,1.45,1.3,2.0,3.2,4.5,3.7,4.0,3.45,4.4,4.6,4.75,5.0,1.95,3.4,1.55,0.35,0.2,0.1,0.0,-0.1,-0.2,0.0,-0.2,0.05,-0.1,-0.35,0.0,-0.1,-0.15,0.0,
  -0.1,-0.05,0.0,-0.2,-0.1,0.0,-0.15,-0.05,-0.2,-0.1,0.0,-0.2,-0.1,0.0,-0.05,-0.15,0.0,-0.1,0.0,-0.05,0.1,0.0,0.1,0.2,0.25,0.15,0.3,0.35,0.2,0.1,0.25,0.5,0.35,0.15,0.4,
  0.2,0.5,0.35,0.15,0.4,0.2,0.1,0.35,0.25,0.15,0.3,0.2,0.1,0.25,0.15,0.0,0.2,0.1,0.25,0.15,0.05,0.2,0.1,0.0,0.15,-0.1,0.05,-0.15,0.0,0.1,-0.05,0.0,-0.2,-0.1,0.0,
  -0.1,-0.2,0.0,-0.1,-0.15,0.05,-0.1,-0.05,-0.2,0.0,-0.1,0.05,-0.15,-0.05,0.0,-0.2,-0.1,0.05,-0.05,-0.1,0.0,-0.2,-0.15,0.0,-0.1,-0.05,-0.25,-0.15,-0.2,-0.3,-0.25,-0.35,-0.3,-0.4,-0.35,
  -0.4,-0.45,-0.35,-0.5,-0.4,-0.45,-0.55,-0.4,-0.5,-0.45,-0.6,-0.5,-0.4,-0.55,-0.45,-0.6,-0.5,-0.55,-0.45,-0.6,-0.5,-0.4,-0.55,-0.6,-0.5,-0.45,-0.55,-0.6,-0.5,-0.45,-0.55,-0.6,-0.5,-0.55,-0.45,
  -0.6,-0.5,-0.55,-0.45,-0.6,-0.55,-0.5,-0.65,-0.55,-0.5,-0.6,-0.55,-0.45,-0.6,-0.5,-0.55,-0.65,-0.5,-0.55,-0.6,-0.5,-0.55,-0.6,-0.5,-0.65,-0.55,-0.5,-0.6,-0.55,-0.65,-0.5,-0.6,-0.55,-0.6,-0.5
];

const mask = [
  -0.2,-0.3,-0.25,-0.4,-0.55,-0.5,-0.75,-0.8,-0.75,-0.9,-0.85,-0.8,-0.9,-0.85,-0.8,-0.95,-0.9,-0.85,-0.9,-1.0,-0.9,-0.95,-1.05,-0.9,-1.0,-0.95,-0.9,-0.85,-0.9,-0.8,-0.65,-0.4,2.3,6.9,5.6,
  2.55,2.35,1.0,0.75,1.1,1.3,1.4,2.3,2.65,2.1,1.95,2.35,2.1,3.2,1.95,1.7,0.95,0.85,0.8,0.55,0.5,0.55,0.3,0.25,0.3,0.35,0.05,0.3,0.3,0.1,0.2,0.05,0.0,-0.1,0.05,
  -0.05,-0.1,0.0,-0.2,-0.25,-0.1,-0.4,-0.2,-0.1,0.0,0.0,-0.05,0.05,0.1,0.0,0.15,0.3,0.1,0.3,0.2,0.45,0.3,0.4,0.3,0.55,0.4,0.3,0.45,0.3,0.5,0.55,1.95,0.85,1.0,0.75,
  0.85,0.55,0.75,0.55,0.3,0.55,0.3,0.7,0.45,0.55,0.3,0.45,0.55,0.7,0.55,0.3,0.55,0.45,0.7,0.3,0.55,0.3,0.45,0.05,0.0,0.15,0.05,-0.05,0.15,0.05,0.0,-0.2,0.0,0.05,-0.1,
  0.0,-0.1,0.1,0.0,-0.05,0.0,-0.2,0.05,0.15,0.05,-0.05,0.15,0.0,-0.1,0.05,0.15,0.05,0.1,0.2,0.05,0.15,0.25,0.3,0.2,0.35,0.4,0.45,0.3,0.55,0.45,2.3,1.8,0.3,-0.25,-0.4,
  -0.5,-0.6,-0.55,-0.7,-0.65,-0.75,-0.7,-0.8,-0.75,-0.7,-0.85,-0.75,-0.7,-0.8,-0.75,-0.65,-0.8,-0.7,-0.75,-0.85,-0.7,-0.8,-0.75,-0.7,-0.85,-0.75,-0.8,-0.7,-0.75,-0.8,-0.7,-0.85,-0.75,-0.8,-0.7,
  -0.75,-0.8,-0.7,-0.65,-0.6,-0.7,-0.75,-0.6,-0.7,-0.8,-0.75,-0.85,-0.8,-0.7,-0.85,-0.9,-0.8,-0.85,-0.75,-0.9,-0.8,-0.85,-0.9,-0.8,-0.75,-0.9,-0.85,-0.8,-0.9,-0.75,-0.85,-0.8,-0.9,-0.85,-0.8
];

// Panel contents, column by column, top to bottom
const leftTerms = ["loss of smell", "loss of taste and loss of smell", "cold and loss of taste", "loss of taste and Fever",
  "Fever and loss of smell", "cold and loss of taste and loss of smell", "Cough and loss of smell", "hand rub", "hand wash"];
const leftSeries = [lossOfSmell, lossOfTasteAndSmell, coldAndLossOfTaste, lossOfTasteAndFever,
  feverAndLossOfSmell, coldTasteSmell, coughAndLossOfSmell, handRub, handWash];
const leftYTicks = [[0, 2.5], [0, 2.5], [0, 2.5], [0, 5], [0, 5], [0, 2.5], [0, 5], [0, 5], [0, 5]];

const rightTerms = ["loss of taste", "Fever", "cold and loss of smell", "Headache", "cold",
  "loss of taste and Fever and loss of smell", "alcohol sanitizer", "Hand sanitizer", "mask"];
const rightSeries = [lossOfTaste, fever, coldAndLossOfSmell, headache, cold,
  tasteFeverSmell, alcoholSanitizer, handSanitizer, mask];
const rightYTicks = [[0, 2.5], [-2.5, 0, 2.5], [0, 5], [-2.5, 0, 2.5], [-2.5, 0, 2.5], [0, 2.5], [0, 5], [0, 5], [0, 5]];

// ---- layout ----
const leftLegendPlace = ["ul", "ul", "ul", "ul", "ul", "ul", "ul", "uc", "uc"];
const rightLegendPlace = ["ul", "lr", "ul", "lr", "uc", "ul", "uc", "uc", "ur"];
const FONT = "'Liberation Serif','Times New Roman',serif";
const TEXT = "#262626";
const RED = "#ff4a4a";
const panelTop = i => 14 + i * 109.5;
const panelH = 91;

const svg = d3.select("#chart");
svg.append("rect").attr("width", 1296).attr("height", 1019).attr("fill", "#fff");
svg.append("defs").append("clipPath").attr("id", "leftClip")
  .append("rect").attr("x", 0).attr("y", 0).attr("width", 651).attr("height", 1019);

const columns = [
  { left: 83, right: 650, terms: leftTerms, series: leftSeries, yTicks: leftYTicks, legend: leftLegendPlace, tickDays: leftTickDays, clip: "url(#leftClip)" },
  { left: 717, right: 1287, terms: rightTerms, series: rightSeries, yTicks: rightYTicks, legend: rightLegendPlace, tickDays: rightTickDays, clip: null }
];

const nDays = confirmedCases.length;

columns.forEach(col => {
  const x = d3.scaleLinear()
    .domain([-0.05 * (nDays - 1), 1.05 * (nDays - 1)])
    .range([col.left, col.right]);

  col.terms.forEach((term, r) => {
    const top = panelTop(r), bottom = top + panelH;
    const values = col.series[r];
    const [lo, hi] = d3.extent(values.concat(confirmedCases));
    const pad = (hi - lo) * 0.05;
    const y = d3.scaleLinear().domain([lo - pad, hi + pad]).range([bottom, top]);

    const g = svg.append("g");

    // frame
    g.append("rect")
      .attr("x", col.left).attr("y", top)
      .attr("width", col.right - col.left).attr("height", panelH)
      .attr("fill", "#fff").attr("stroke", "#c9c9c9").attr("stroke-width", 1.6);

    // x tick marks
    const xAxis = d3.axisBottom(x).tickValues(col.tickDays.filter(d => x(d) < col.right)).tickSize(4).tickFormat(() => "");
    g.append("g").attr("transform", `translate(0,${bottom})`).call(xAxis)
      .call(s => s.select(".domain").remove())
      .call(s => s.selectAll(".tick line").attr("stroke", "#b8b8b8").attr("stroke-width", 1));

    // y axis labels
    const ticks = col.yTicks[r];
    const fmt = ticks.every(Number.isInteger) ? d3.format("d") : d3.format(".1f");
    const yAxis = d3.axisLeft(y).tickValues(ticks).tickFormat(fmt).tickSize(3).tickPadding(3);
    g.append("g").attr("transform", `translate(${col.left},0)`).call(yAxis)
      .call(s => s.select(".domain").remove())
      .call(s => s.selectAll(".tick line").attr("stroke", "#b8b8b8"))
      .call(s => s.selectAll(".tick text").attr("font-family", FONT).attr("font-size", 17).attr("fill", TEXT));

    // daily confirmed cases
    g.append("path").datum(confirmedCases)
      .attr("d", d3.line().x((d, i) => x(i)).y(d => y(d)))
      .attr("fill", "none").attr("stroke", RED).attr("stroke-width", 1.7)
      .attr("stroke-opacity", 0.9).attr("stroke-linejoin", "round");

    // search volume points
    g.append("g").selectAll("circle").data(values).join("circle")
      .attr("cx", (d, i) => x(i)).attr("cy", d => y(d))
      .attr("r", 1.15).attr("fill", "#1e1e1e");

    // legend
    const place = col.legend[r];
    const lg = g.append("g");
    const t1 = lg.append("text").text("Daily Confirmed cases")
      .attr("font-family", FONT).attr("font-size", 15).attr("fill", TEXT).attr("dy", "0.35em");
    const t2 = lg.append("text").text(term)
      .attr("font-family", FONT).attr("font-size", 15).attr("fill", TEXT).attr("dy", "0.35em");
    const textW = Math.max(t1.node().getComputedTextLength(), t2.node().getComputedTextLength());
    const blockW = 26 + textW;
    let lx;
    if (place === "ul") lx = col.left + 8;
    else if (place === "uc") lx = (col.left + col.right) / 2 - blockW / 2;
    else lx = col.right - 11 - blockW;
    const row1 = place === "lr" ? bottom - 38 : top + 14;
    const row2 = row1 + 22;
    lg.append("line").attr("x1", lx).attr("x2", lx + 16).attr("y1", row1).attr("y2", row1)
      .attr("stroke", RED).attr("stroke-width", 2.2).attr("stroke-opacity", 0.9);
    lg.append("circle").attr("cx", lx + 7).attr("cy", row2).attr("r", 2.4).attr("fill", "#1e1e1e");
    t1.attr("x", lx + 26).attr("y", row1);
    t2.attr("x", lx + 26).attr("y", row2);
  });

  // date labels under the last row
  const lastBottom = panelTop(col.terms.length - 1) + panelH;
  const lab = svg.append("g").attr("clip-path", col.clip);
  col.tickDays.forEach((d, i) => {
    const t = lab.append("text").attr("x", x(d)).attr("y", lastBottom + 16)
      .attr("text-anchor", "middle").attr("font-family", FONT).attr("font-size", 17).attr("fill", TEXT);
    xTickLabels[i].forEach((line, k) => {
      t.append("tspan").attr("x", x(d)).attr("dy", k === 0 ? 0 : 17).text(line);
    });
  });
});

// shared y-axis title
const yTitle = svg.append("text")
  .attr("transform", "translate(28,500) rotate(-90)")
  .attr("text-anchor", "middle").attr("font-family", FONT).attr("font-size", 17).attr("fill", TEXT);
yTitle.append("tspan").attr("x", 0).attr("dy", "-0.35em").text("Relative Search Volume data");
yTitle.append("tspan").attr("x", 0).attr("dy", "1.05em").text("& Daily Confirmed cases");
</script>
</body>
</html>
